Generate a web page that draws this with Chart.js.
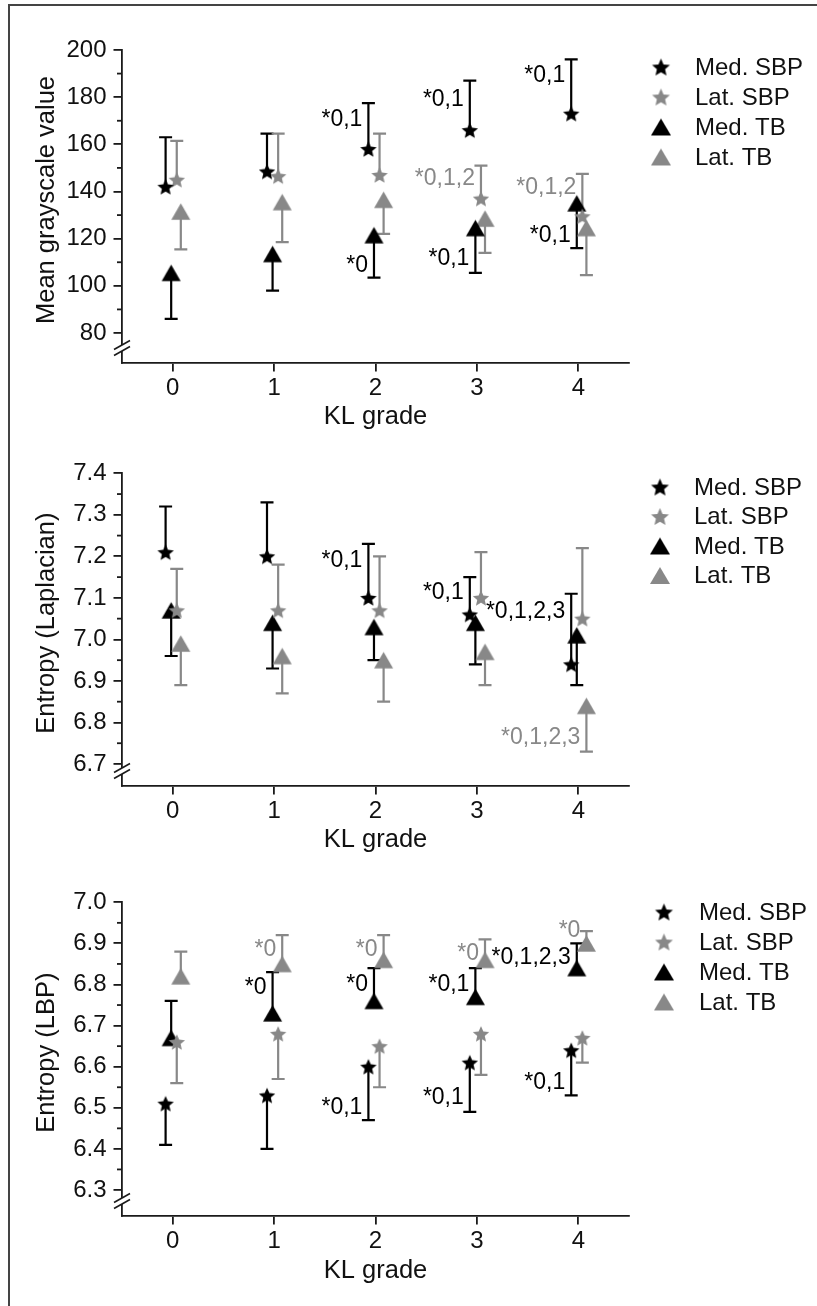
<!DOCTYPE html>
<html>
<head>
<meta charset="utf-8">
<script src="https://cdn.jsdelivr.net/npm/chart.js@4.4.1/dist/chart.umd.min.js"></script>
<style>
html,body{margin:0;padding:0;background:#fff;}
#wrap{position:relative;width:817px;height:1306px;overflow:hidden;background:#fff;}
#frame{position:absolute;left:8px;top:4px;width:900px;height:1400px;border-left:2px solid #444;border-top:2px solid #444;}
canvas{position:absolute;left:0;}
</style>
</head>
<body>
<div id="wrap">
<div id="frame"></div>
<canvas id="c1" width="817" height="440" style="top:0px"></canvas>
<canvas id="c2" width="817" height="430" style="top:440px"></canvas>
<canvas id="c3" width="817" height="436" style="top:870px"></canvas>
</div>
<script>
// ---------------- DATA ----------------
const grades = [0, 1, 2, 3, 4];
const seriesNames = ['Med. SBP', 'Lat. SBP', 'Med. TB', 'Lat. TB'];
const xTicks = [0, 1, 2, 3, 4];

// Panel 1: Mean grayscale value (value, error-bar end)
const grayMedSBP    = [142, 148.5, 158, 166, 173];
const grayMedSBPEnd = [163, 164.5, 177.5, 187, 196];
const grayLatSBP    = [145, 146.5, 147, 137, 129.5];
const grayLatSBPEnd = [161.5, 164.5, 164.5, 151, 147.5];
const grayMedTB     = [105.5, 113.5, 121.5, 124.5, 135];
const grayMedTBEnd  = [86, 98, 103.5, 105.5, 116];
const grayLatTB     = [131.5, 135.5, 136.5, 128.5, 124.5];
const grayLatTBEnd  = [115.5, 118.5, 122, 114, 104.5];
const grayTicks = [80, 100, 120, 140, 160, 180, 200];
const grayMinor = [90, 110, 130, 150, 170, 190];

// Panel 2: Entropy (Laplacian)
const lapMedSBP    = [7.21, 7.20, 7.10, 7.06, 6.94];
const lapMedSBPEnd = [7.32, 7.33, 7.23, 7.15, 7.11];
const lapLatSBP    = [7.07, 7.07, 7.07, 7.10, 7.05];
const lapLatSBPEnd = [7.17, 7.18, 7.20, 7.21, 7.22];
const lapMedTB     = [7.07, 7.04, 7.03, 7.04, 7.01];
const lapMedTBEnd  = [6.96, 6.93, 6.95, 6.94, 6.89];
const lapLatTB     = [6.99, 6.96, 6.95, 6.97, 6.84];
const lapLatTBEnd  = [6.89, 6.87, 6.85, 6.89, 6.73];
const lapTicks = [6.7, 6.8, 6.9, 7.0, 7.1, 7.2, 7.3, 7.4];
const lapMinor = [6.75, 6.85, 6.95, 7.05, 7.15, 7.25, 7.35];

// Panel 3: Entropy (LBP)
const lbpMedSBP    = [6.51, 6.53, 6.60, 6.61, 6.64];
const lbpMedSBPEnd = [6.41, 6.40, 6.47, 6.49, 6.53];
const lbpLatSBP    = [6.66, 6.68, 6.65, 6.68, 6.67];
const lbpLatSBPEnd = [6.56, 6.57, 6.55, 6.58, 6.61];
const lbpMedTB     = [6.67, 6.73, 6.76, 6.77, 6.84];
const lbpMedTBEnd  = [6.76, 6.83, 6.84, 6.84, 6.90];
const lbpLatTB     = [6.82, 6.85, 6.86, 6.86, 6.90];
const lbpLatTBEnd  = [6.88, 6.92, 6.92, 6.91, 6.93];
const lbpTicks = [6.3, 6.4, 6.5, 6.6, 6.7, 6.8, 6.9, 7.0];
const lbpMinor = [6.35, 6.45, 6.55, 6.65, 6.75, 6.85, 6.95];

// Significance labels: [series index, grade index, label y value, text]
const grayLabels = [
  [0, 2, 171, '*0,1'], [2, 2, 109, '*0'],
  [0, 3, 179.5, '*0,1'], [1, 3, 145.7, '*0,1,2'], [2, 3, 112, '*0,1'],
  [0, 4, 189.5, '*0,1'], [1, 4, 142, '*0,1,2'], [2, 4, 121.5, '*0,1']
];
const lapLabels = [
  [0, 2, 7.193, '*0,1'], [0, 3, 7.115, '*0,1'],
  [0, 4, 7.07, '*0,1,2,3'], [3, 4, 6.767, '*0,1,2,3']
];
const lbpLabels = [
  [3, 1, 6.888, '*0'], [2, 1, 6.795, '*0'],
  [3, 2, 6.888, '*0'], [2, 2, 6.803, '*0'], [0, 2, 6.503, '*0,1'],
  [3, 3, 6.877, '*0'], [2, 3, 6.803, '*0,1'], [0, 3, 6.527, '*0,1'],
  [2, 4, 6.868, '*0,1,2,3'], [3, 4, 6.934, '*0'], [0, 4, 6.563, '*0,1']
];

// ---------------- STYLE ----------------
const FONT = "'Liberation Sans', Arial, Helvetica, sans-serif";
const BLACK = '#000000';
const GRAY = '#888888';
const AXIS = '#1a1a1a';
const TEXT = '#111111';
const seriesColors = [BLACK, GRAY, BLACK, GRAY];
const seriesShapes = ['star', 'star', 'tri', 'tri'];
const seriesOffsets = [-0.07, 0.04, -0.015, 0.08];

function makeStar(R, color) {
  const ri = R * 0.46;
  const size = Math.ceil(2 * R + 2);
  const c = document.createElement('canvas');
  c.width = size; c.height = size;
  const g = c.getContext('2d');
  const cx = size / 2;
  const cy = size / 2 + (R - R * Math.cos(Math.PI / 5)) / 2;
  g.beginPath();
  for (let k = 0; k < 10; k++) {
    const r = k % 2 === 0 ? R : ri;
    const a = -Math.PI / 2 + k * Math.PI / 5;
    g.lineTo(cx + r * Math.cos(a), cy + r * Math.sin(a));
  }
  g.closePath();
  g.fillStyle = color; g.fill();
  return c;
}
function makeTri(w, h, color) {
  const c = document.createElement('canvas');
  c.width = Math.ceil(w) + 2; c.height = Math.ceil(h) + 2;
  const g = c.getContext('2d');
  const cx = c.width / 2, cy = c.height / 2;
  g.beginPath();
  g.moveTo(cx, cy - h / 2);
  g.lineTo(cx + w / 2, cy + h / 2);
  g.lineTo(cx - w / 2, cy + h / 2);
  g.closePath();
  g.fillStyle = color; g.fill();
  return c;
}
function marker(shape, color, big) {
  if (shape === 'star') return makeStar(big ? 9.4 : 8.6, color);
  return big ? makeTri(20, 17, color) : makeTri(19, 16.5, color);
}

const extras = {
  id: 'extras',
  beforeDatasetsDraw(chart) {
    const ctx = chart.ctx, xs = chart.scales.x, ys = chart.scales.y;
    ctx.save();
    ctx.lineWidth = 2.2;
    ctx.lineCap = 'butt';
    chart.data.datasets.forEach(ds => {
      ctx.strokeStyle = ds.borderColor;
      ds.data.forEach((p, i) => {
        const x = xs.getPixelForValue(p.x);
        const y0 = ys.getPixelForValue(p.y);
        const y1 = ys.getPixelForValue(ds.errEnds[i]);
        ctx.beginPath();
        ctx.moveTo(x, y0); ctx.lineTo(x, y1);
        ctx.moveTo(x - 6.5, y1); ctx.lineTo(x + 6.5, y1);
        ctx.stroke();
      });
    });
    ctx.restore();
  },
  afterDraw(chart) {
    const P = chart.options.plugins.extras;
    const ctx = chart.ctx, xs = chart.scales.x, ys = chart.scales.y;
    const ca = chart.chartArea;
    ctx.save();
    // minor ticks
    ctx.strokeStyle = AXIS; ctx.lineWidth = 1.8;
    P.minor.forEach(v => {
      const y = ys.getPixelForValue(v);
      ctx.beginPath(); ctx.moveTo(ca.left - 5, y); ctx.lineTo(ca.left, y); ctx.stroke();
    });
    // axis break
    const by = ca.bottom - 15;
    ctx.fillStyle = '#ffffff';
    ctx.fillRect(ca.left - 3, by - 3, 6, 6);
    ctx.strokeStyle = AXIS; ctx.lineWidth = 1.6;
    [-3, 3].forEach(d => {
      ctx.beginPath();
      ctx.moveTo(ca.left - 8, by + d + 4.5);
      ctx.lineTo(ca.left + 8, by + d - 4.5);
      ctx.stroke();
    });
    // y title
    ctx.fillStyle = TEXT;
    ctx.font = '25.5px ' + FONT;
    ctx.textAlign = 'center'; ctx.textBaseline = 'middle';
    ctx.translate(47, (ca.top + ca.bottom) / 2 - 6.5);
    ctx.rotate(-Math.PI / 2);
    ctx.fillText(P.yTitle, 0, 0);
    ctx.restore();
    // significance labels
    ctx.save();
    ctx.font = '23px ' + FONT;
    ctx.textAlign = 'right'; ctx.textBaseline = 'middle';
    P.labels.forEach(([s, g, v, t]) => {
      const x = xs.getPixelForValue(grades[g] + seriesOffsets[s]) - 6;
      const y = ys.getPixelForValue(v);
      ctx.fillStyle = seriesColors[s];
      ctx.fillText(t, x, y + 1);
    });
    ctx.restore();
    // legend
    ctx.save();
    ctx.font = '24px ' + FONT;
    ctx.textAlign = 'left'; ctx.textBaseline = 'middle';
    ctx.fillStyle = TEXT;
    seriesNames.forEach((name, i) => {
      const y = P.legendTop + i * P.legendStep;
      const img = marker(seriesShapes[i], seriesColors[i], true);
      ctx.drawImage(img, P.legendX - img.width / 2, y - img.height / 2);
      ctx.fillText(name, P.legendTextX, y + 1);
    });
    ctx.restore();
  }
};

function buildChart(cfg) {
  const datasets = cfg.series.map((s, i) => ({
    label: seriesNames[i],
    data: grades.map((g, k) => ({ x: g + seriesOffsets[i], y: s.vals[k] })),
    errEnds: s.ends,
    borderColor: seriesColors[i],
    backgroundColor: seriesColors[i],
    pointStyle: marker(seriesShapes[i], seriesColors[i], false),
    pointRadius: 8,
    showLine: false
  }));
  return new Chart(document.getElementById(cfg.id), {
    type: 'scatter',
    data: { datasets },
    plugins: [extras],
    options: {
      responsive: false,
      animation: false,
      devicePixelRatio: 1,
      layout: { padding: { left: 0, right: 188, top: cfg.padTop, bottom: cfg.padBottom } },
      plugins: {
        legend: { display: false },
        tooltip: { enabled: false },
        extras: { minor: cfg.minor, labels: cfg.labels, yTitle: cfg.yTitle,
                  legendTop: cfg.legendTop, legendStep: cfg.legendStep,
                  legendX: cfg.legendX, legendTextX: cfg.legendTextX }
      },
      scales: {
        x: {
          type: 'linear', min: -0.5, max: 4.5, bounds: 'data',
          afterBuildTicks: s => { s.ticks = xTicks.map(v => ({ value: v })); },
          afterFit: s => { s.height = cfg.xH; },
          ticks: { autoSkip: false, font: { family: FONT, size: 24 }, color: TEXT, padding: 2.5,
                   callback: v => String(v) },
          grid: { display: true, drawOnChartArea: false, drawTicks: true, tickLength: 8.5,
                  color: AXIS, lineWidth: 1.8 },
          border: { display: true, color: AXIS, width: 1.8 },
          title: { display: true, text: 'KL grade', font: { family: FONT, size: 25.5 },
                   color: TEXT, padding: 0 }
        },
        y: {
          type: 'linear', min: cfg.yMin, max: cfg.yMax, bounds: 'data',
          afterBuildTicks: s => { s.ticks = cfg.majors.map(v => ({ value: v })); },
          afterFit: s => { s.width = 122; },
          ticks: { autoSkip: false, font: { family: FONT, size: 24 }, color: TEXT, padding: 7,
                   callback: v => Number(v).toFixed(cfg.decimals) },
          grid: { display: true, drawOnChartArea: false, drawTicks: true, tickLength: 8.5,
                  color: AXIS, lineWidth: 1.8 },
          border: { display: true, color: AXIS, width: 1.8 }
        }
      }
    }
  });
}

buildChart({
  id: 'c1', padTop: 50, padBottom: 8, xH: 69,
  yMin: 67.28, yMax: 200, majors: grayTicks, minor: grayMinor, decimals: 0,
  yTitle: 'Mean grayscale value', labels: grayLabels,
  legendTop: 67, legendStep: 30, legendX: 661, legendTextX: 695,
  series: [
    { vals: grayMedSBP, ends: grayMedSBPEnd },
    { vals: grayLatSBP, ends: grayLatSBPEnd },
    { vals: grayMedTB, ends: grayMedTBEnd },
    { vals: grayLatTB, ends: grayLatTBEnd }
  ]
});
buildChart({
  id: 'c2', padTop: 33.3, padBottom: 15, xH: 69,
  yMin: 6.647, yMax: 7.4, majors: lapTicks, minor: lapMinor, decimals: 1,
  yTitle: 'Entropy (Laplacian)', labels: lapLabels,
  legendTop: 47, legendStep: 29.5, legendX: 660, legendTextX: 694,
  series: [
    { vals: lapMedSBP, ends: lapMedSBPEnd },
    { vals: lapLatSBP, ends: lapLatSBPEnd },
    { vals: lapMedTB, ends: lapMedTBEnd },
    { vals: lapLatTB, ends: lapLatTBEnd }
  ]
});
buildChart({
  id: 'c3', padTop: 32.3, padBottom: 20, xH: 70,
  yMin: 6.2367, yMax: 7.0, majors: lbpTicks, minor: lbpMinor, decimals: 1,
  yTitle: 'Entropy (LBP)', labels: lbpLabels,
  legendTop: 42, legendStep: 30, legendX: 664, legendTextX: 699,
  series: [
    { vals: lbpMedSBP, ends: lbpMedSBPEnd },
    { vals: lbpLatSBP, ends: lbpLatSBPEnd },
    { vals: lbpMedTB, ends: lbpMedTBEnd },
    { vals: lbpLatTB, ends: lbpLatTBEnd }
  ]
});
</script>
</body>
</html>
